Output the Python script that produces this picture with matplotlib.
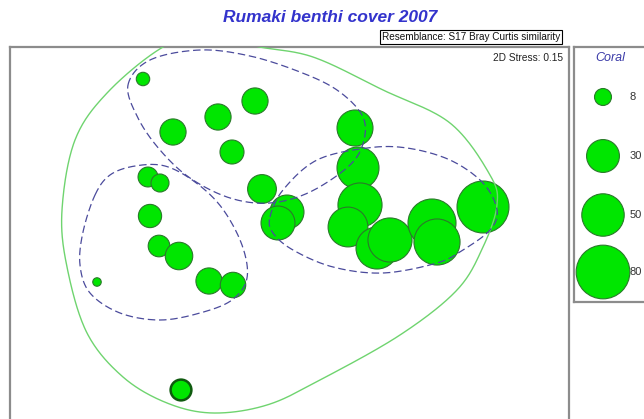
import numpy as np
import matplotlib
matplotlib.use("Agg")
import matplotlib.pyplot as plt

# ordination positions (plot units, y grows downward) and coral cover per sample
mds_x = [143, 173, 218, 255, 232, 355, 148, 160, 150, 159, 179, 209, 233, 97, 181,
         262, 287, 278, 358, 360, 348, 377, 390, 432, 437, 483]
mds_y = [79, 132, 117, 101, 152, 128, 177, 183, 216, 246, 256, 281, 285, 282, 390,
         189, 212, 223, 168, 205, 227, 248, 240, 223, 242, 207]
coral = [5, 19, 19, 19, 16, 36, 11, 9, 15, 13, 21, 19, 18, 2, 12,
         23, 32, 32, 49, 54, 44, 49, 54, 64, 59, 75]

legend_values = [8, 30, 50, 80]
legend_labels = ["8", "30", "50", "80"]

# contour outlines
outer_x = [210, 255, 313, 383, 450, 490, 497, 483, 457, 400, 320, 267, 213, 167, 123, 87, 67, 62, 75, 108, 163]
outer_y = [32, 46, 57, 90, 123, 175, 205, 247, 290, 335, 380, 405, 413, 403, 377, 333, 267, 210, 140, 92, 47]

top_x = [128, 150, 200, 250, 300, 337, 362, 364, 350, 310, 270, 230, 190, 160, 138]
top_y = [85, 60, 50, 56, 72, 90, 115, 140, 165, 192, 203, 198, 178, 150, 118]

left_x = [95, 110, 135, 165, 195, 222, 242, 247, 232, 200, 160, 120, 90, 80, 83]
left_y = [195, 175, 166, 166, 182, 208, 245, 278, 300, 313, 320, 313, 293, 265, 232]

right_x = [270, 283, 317, 367, 407, 450, 483, 497, 490, 463, 437, 383, 333, 293, 273]
right_y = [217, 190, 160, 148, 148, 160, 183, 210, 230, 250, 263, 273, 267, 250, 233]


def smooth_closed(xs, ys, n=30):
    """closed Catmull-Rom curve through the control points"""
    P = np.column_stack([xs, ys]).astype(float)
    N = len(P)
    t = np.linspace(0, 1, n, endpoint=False)[:, None]
    segs = []
    for i in range(N):
        p0, p1, p2, p3 = P[i - 1], P[i], P[(i + 1) % N], P[(i + 2) % N]
        segs.append(0.5 * (2 * p1 + (-p0 + p2) * t
                           + (2 * p0 - 5 * p1 + 4 * p2 - p3) * t ** 2
                           + (-p0 + 3 * p1 - 3 * p2 + p3) * t ** 3))
    segs.append(segs[0][:1])
    out = np.vstack(segs)
    return out[:, 0], out[:, 1]


W, H = 644, 419
fig = plt.figure(figsize=(W / 100, H / 100), dpi=100)
fig.patch.set_facecolor("white")

scale = (2 * 3 * 0.72) ** 2  # marker area per unit of coral cover

frame_col = "#8c8c8c"
bubble_fc = "#00e600"
bubble_ec = "#2a7a2a"

# main ordination panel
ax = fig.add_axes([10 / W, (H - 428) / H, 559 / W, 381 / H])
ax.set_xlim(10, 569)
ax.set_ylim(428, 47)
ax.set_xticks([])
ax.set_yticks([])
for s in ax.spines.values():
    s.set_color(frame_col)
    s.set_linewidth(1.6)

sizes = [c * scale for c in coral]
edge_w = [0.8] * len(coral)
edge_c = [bubble_ec] * len(coral)
edge_w[14] = 1.8
edge_c[14] = "#0f5a0f"
ax.scatter(mds_x, mds_y, s=sizes, c=bubble_fc, edgecolors=edge_c, linewidths=edge_w, zorder=2)

gx, gy = smooth_closed(outer_x, outer_y)
ax.plot(gx, gy, color="#6fd46f", lw=1.0, zorder=3)
for cx, cy in [(top_x, top_y), (left_x, left_y), (right_x, right_y)]:
    lx, ly = smooth_closed(cx, cy)
    ax.plot(lx, ly, color="#4b4b9c", lw=0.9, dashes=(6, 3), zorder=3)

ax.text(563, 58, "2D Stress: 0.15", fontsize=7.3, ha="right", va="center",
        family="Liberation Sans", color="#222222")

# bubble size legend panel
lax = fig.add_axes([574 / W, (H - 302) / H, 90 / W, 255 / H])
lax.set_xlim(574, 664)
lax.set_ylim(302, 47)
lax.set_xticks([])
lax.set_yticks([])
for s in lax.spines.values():
    s.set_color(frame_col)
    s.set_linewidth(1.6)
leg_y = [97, 156, 215, 272]
lax.scatter([603] * 4, leg_y, s=[v * scale for v in legend_values], c=bubble_fc,
            edgecolors=bubble_ec, linewidths=0.8, zorder=2)
for yy, lab in zip(leg_y, legend_labels):
    lax.text(630, yy, lab, fontsize=8, va="center", ha="left", color="#333333",
             family="Liberation Sans")
lax.text(610, 58, "Coral", fontsize=9, style="italic", ha="center", va="center",
         color="#3a3aa8", family="Liberation Sans")

# title and resemblance box
fig.text(330 / W, 1 - 18 / H, "Rumaki benthi cover 2007", fontsize=12.5,
         fontweight="bold", style="italic", color="#3333cc", ha="center", va="center",
         family="Liberation Sans")
fig.text(471 / W, 1 - 37 / H, "Resemblance: S17 Bray Curtis similarity", fontsize=7.2,
         ha="center", va="center", color="#111111", family="Liberation Sans",
         bbox=dict(boxstyle="square,pad=0.2", fc="white", ec="black", lw=0.8))

fig.savefig("out.png", dpi=100)
